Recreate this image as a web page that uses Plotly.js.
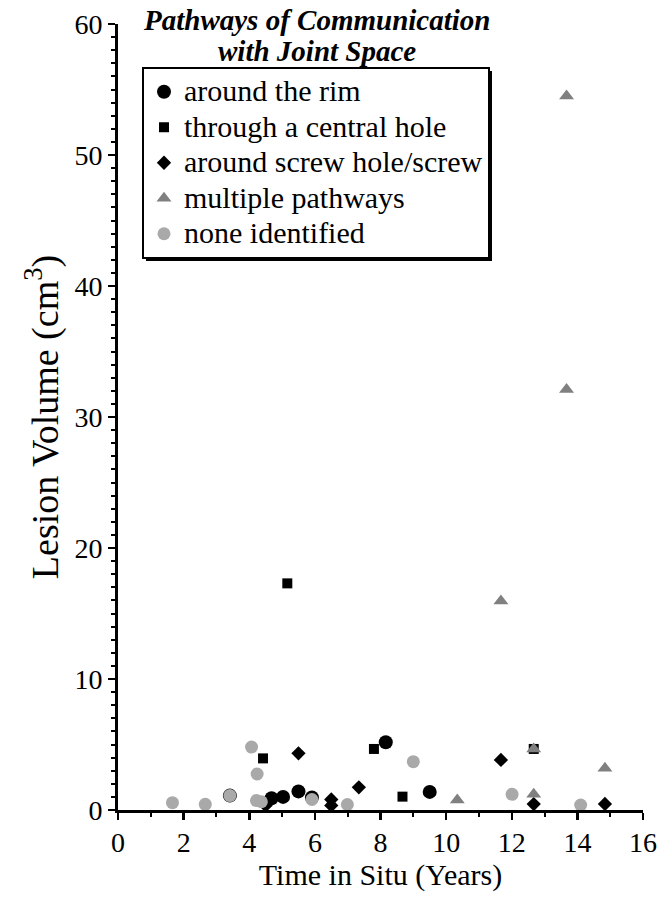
<!DOCTYPE html>
<html>
<head>
<meta charset="utf-8">
<script src="https://cdn.plot.ly/plotly-3.0.1.min.js"></script>
<style>html,body{margin:0;padding:0;background:#fff;}#chart{width:657px;height:898px;}</style>
</head>
<body>
<div id="chart"></div>
<script>
// Data (x = time in situ, years; y = lesion volume, cm^3)
const seriesNames = ["around the rim", "through a central hole", "around screw hole/screw", "multiple pathways", "none identified"];
const rimX = [3.41, 4.68, 5.03, 5.50, 5.91, 8.16, 9.50];
const rimY = [1.10, 0.90, 1.00, 1.42, 0.95, 5.17, 1.38];
const holeX = [4.42, 5.16, 7.80, 8.67, 12.67];
const holeY = [3.94, 17.30, 4.66, 1.02, 4.66];
const screwX = [4.50, 5.50, 6.50, 6.50, 7.34, 11.67, 12.67, 14.84];
const screwY = [0.35, 4.33, 0.80, 0.35, 1.73, 3.82, 0.45, 0.46];
const multiX = [10.34, 11.67, 12.67, 12.67, 13.67, 13.67, 14.84];
const multiY = [0.76, 15.95, 4.66, 1.20, 32.10, 54.50, 3.18];
const noneX = [1.66, 2.66, 3.41, 4.07, 4.24, 4.22, 4.37, 5.91, 6.99, 9.00, 12.01, 14.10];
const noneY = [0.56, 0.43, 1.10, 4.80, 2.75, 0.72, 0.63, 0.80, 0.42, 3.69, 1.20, 0.38];
const xTicks = [0, 2, 4, 6, 8, 10, 12, 14, 16];
const yTicks = [0, 10, 20, 30, 40, 50, 60];
const legendTitle = ["Pathways of Communication", "with Joint Space"];

const serif = "Liberation Serif, Times New Roman, serif";
const legendText = s => '<span style="font-size:30px">' + s + '</span>';
const traces = [
  {x: rimX, y: rimY, name: legendText(seriesNames[0]), marker: {symbol: "circle", size: 14, color: "#000"}},
  {x: holeX, y: holeY, name: legendText(seriesNames[1]), marker: {symbol: "square", size: 10, color: "#000"}},
  {x: screwX, y: screwY, name: legendText(seriesNames[2]), marker: {symbol: "diamond", size: 11, color: "#000"}},
  {x: multiX, y: multiY, name: legendText(seriesNames[3]), marker: {symbol: "triangle-up", size: 13, color: "#808080"}},
  {x: noneX, y: noneY, name: legendText(seriesNames[4]), marker: {symbol: "circle", size: 13, color: "#a9a9a9"}}
].map(t => Object.assign({type: "scatter", mode: "markers"}, t));

const axisCommon = {
  showgrid: false, zeroline: false, showline: true, linecolor: "#000", linewidth: 3,
  ticks: "outside", ticklen: 7, tickwidth: 2.5, tickcolor: "#000",
  tickfont: {family: serif, size: 28, color: "#000"},
  minor: {ticks: "outside", ticklen: 4, tickwidth: 2, tickcolor: "#000", dtick: 1, tick0: 0}
};

const layout = {
  width: 657, height: 898,
  margin: {l: 118, r: 14, t: 24, b: 88},
  paper_bgcolor: "#fff", plot_bgcolor: "#fff",
  showlegend: true,
  font: {family: serif, color: "#000"},
  xaxis: Object.assign({}, axisCommon, {
    range: [0, 16], tickmode: "array", tickvals: xTicks, ticktext: xTicks.map(String),
    ticklabelstandoff: -2,
    title: {text: "Time in Situ (Years)", font: {family: serif, size: 30, color: "#000"}, standoff: 8}
  }),
  yaxis: Object.assign({}, axisCommon, {
    range: [0, 60], tickmode: "array", tickvals: yTicks, ticktext: yTicks.map(String),
    title: {text: "Lesion Volume (cm<sup>3</sup>)", font: {family: serif, size: 38, color: "#000"}, standoff: 5}
  }),
  legend: {
    x: 0.0457, y: 0.9453, xanchor: "left", yanchor: "top",
    bgcolor: "#fff", bordercolor: "#000", borderwidth: 2,
    font: {family: serif, size: 25, color: "#000"},
    itemsizing: "trace"
  },
  annotations: legendTitle.map((txt, i) => ({
    xref: "paper", yref: "paper", x: 0.379, y: i === 0 ? 1.005 : 0.966,
    xanchor: "center", yanchor: "middle", showarrow: false,
    text: "<b><i>" + txt + "</i></b>",
    font: {family: serif, size: 29, color: "#000"}
  }))
};

Plotly.newPlot("chart", traces, layout, {staticPlot: true, displayModeBar: false}).then(gd => {
  // drop shadow behind the legend box, sized from the drawn legend
  const bg = gd.querySelector(".legend .bg");
  if (!bg) return;
  const r = bg.getBoundingClientRect();
  const c = gd.getBoundingClientRect();
  const sz = gd._fullLayout._size;
  const toPx = px => (px - c.left - sz.l) / sz.w;
  const toPy = py => (sz.t + sz.h - (py - c.top)) / sz.h;
  const off = 3;
  return Plotly.relayout(gd, {shapes: [{
    type: "rect", xref: "paper", yref: "paper", layer: "above",
    x0: toPx(r.left + off), x1: toPx(r.right + off),
    y0: toPy(r.bottom + off), y1: toPy(r.top + off),
    fillcolor: "#000", line: {width: 0}
  }]});
});
</script>
</body>
</html>
